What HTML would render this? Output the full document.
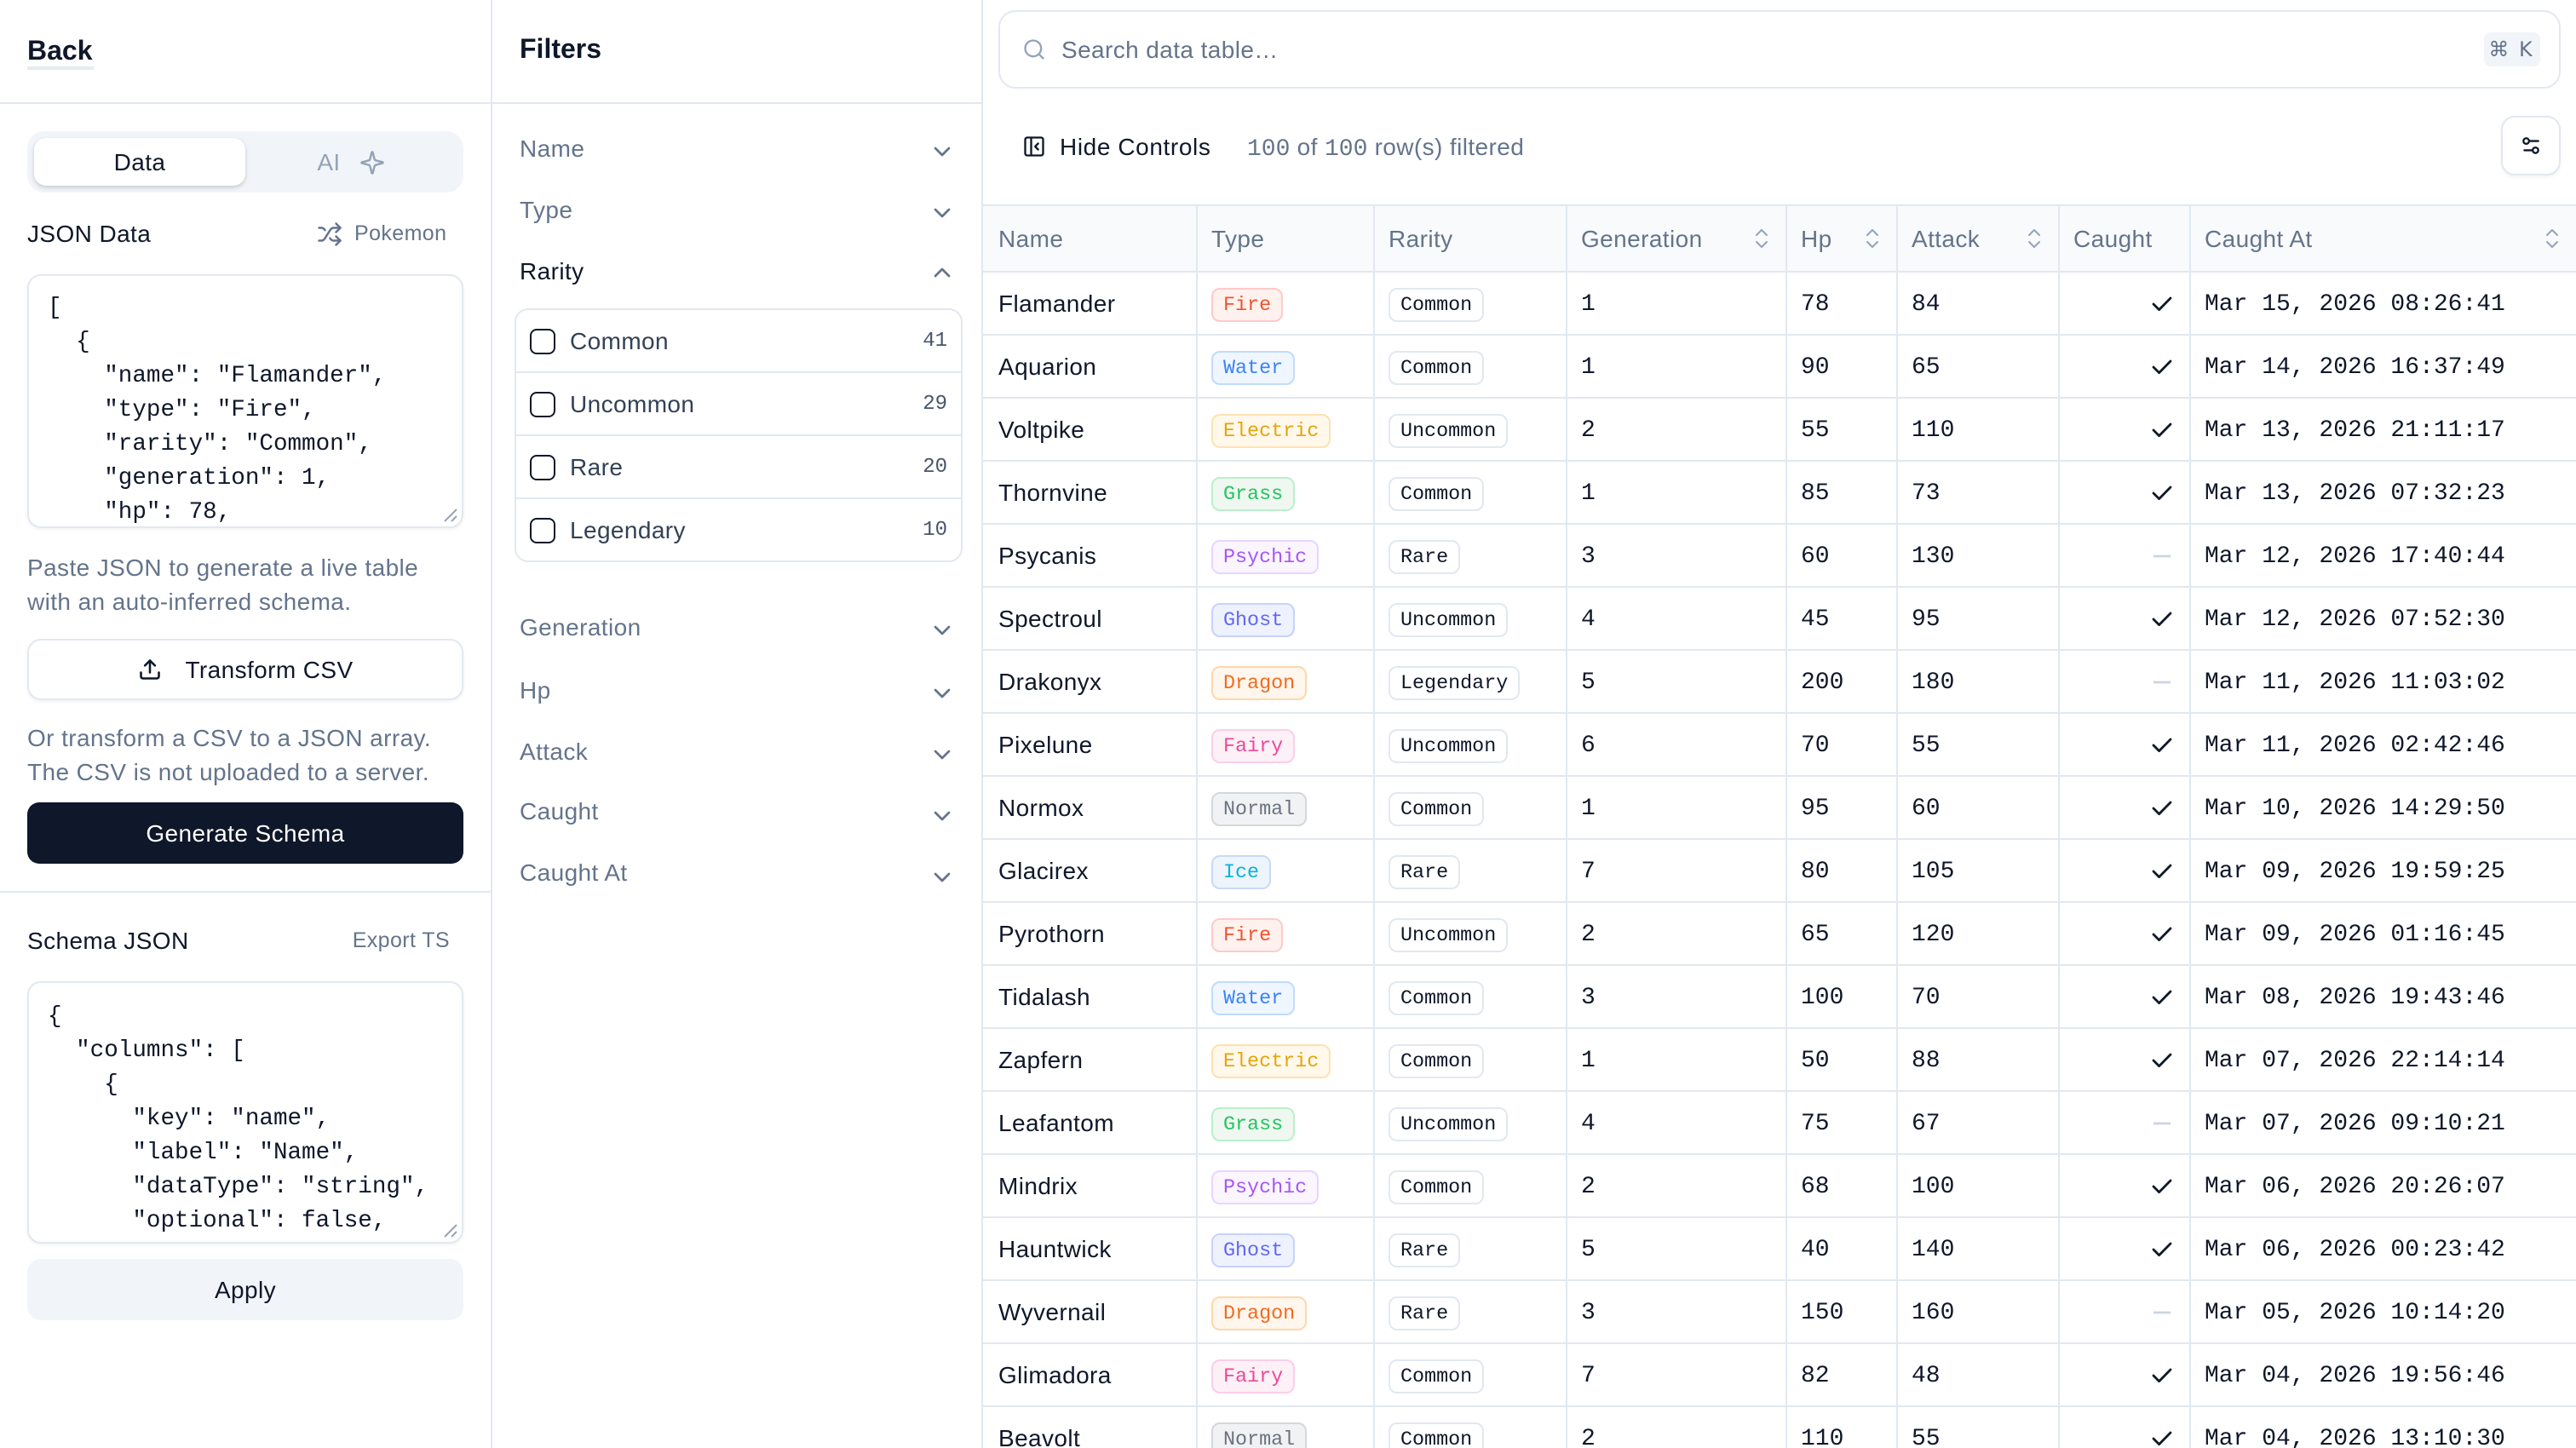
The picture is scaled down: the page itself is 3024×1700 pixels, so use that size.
<!DOCTYPE html>
<html><head><meta charset="utf-8">
<style>
html,body{margin:0;padding:0;width:3024px;height:1700px;overflow:hidden;background:#fff}
#r{position:absolute;left:0;top:0;width:1512px;height:850px;transform:scale(2);transform-origin:0 0;overflow:hidden;font-family:"Liberation Sans",sans-serif;font-size:14px;letter-spacing:.2px;color:#0f172a;background:#fff}
.a{position:absolute}
.t{position:absolute;line-height:20px;white-space:nowrap}
.mono{font-family:"Liberation Mono","DejaVu Sans Mono",monospace;letter-spacing:0}
.muted{color:#64748b}
.vl{position:absolute;top:0;width:1px;height:850px;background:#e2e8f0}
.hl{position:absolute;height:1px;background:#e2e8f0}
.ta{position:absolute;left:16px;width:256px;box-sizing:border-box;border:1px solid #e2e8f0;border-radius:8px;box-shadow:0 1px 2px rgba(15,23,42,.05);overflow:hidden;background:#fff}
.ta pre{margin:0;padding:0 0 0 11px;font-family:"Liberation Mono","DejaVu Sans Mono",monospace;font-size:13.8px;line-height:20px;letter-spacing:0;color:#0f172a}
.btn{position:absolute;left:16px;width:256px;height:36px;box-sizing:border-box;border-radius:8px;display:flex;align-items:center;justify-content:center;white-space:nowrap}
.fl{position:absolute;left:305px;line-height:20px;color:#64748b;white-space:nowrap}
.chev{position:absolute;left:545px;width:16px;height:16px}
.opt{height:36px;border-bottom:1px solid #e2e8f0;position:relative}
.opt:last-child{border-bottom:none}
.cb{position:absolute;left:8px;top:10.5px;width:15.5px;height:15.5px;box-sizing:border-box;border:1.5px solid #0f172a;border-radius:4px}
.ol{position:absolute;left:32px;top:8px;line-height:20px;color:#334155}
.oc{position:absolute;right:8px;top:8px;line-height:20px;font-size:12px;color:#475569}
.thead{position:absolute;left:577px;top:120px;width:1009px;height:40px;box-sizing:border-box;border-top:1px solid #e2e8f0;border-bottom:1px solid #e2e8f0;background:#f8fafc;display:flex}
.thead .c{color:#64748b;position:relative}
.tbl{position:absolute;left:577px;top:160px;width:1009px}
.row{display:flex;height:37px;border-bottom:1px solid #e2e8f0;box-sizing:border-box}
.c{box-sizing:border-box;border-right:1px solid #e2e8f0;display:flex;align-items:center;padding:0 8px;white-space:nowrap;overflow:hidden;flex:none;height:100%}
.c1{width:126px;padding-left:9px}.c2{width:104px}.c3{width:113px}.c4{width:129px}.c5{width:65px}.c6{width:95px}.c7{width:77px;justify-content:flex-end;padding-right:10px}.c8{width:300px;border-right:none}
.row .c4,.row .c5,.row .c6,.row .c8{font-family:"Liberation Mono","DejaVu Sans Mono",monospace;letter-spacing:0;font-size:14px;padding-top:2px}
.row .c2,.row .c3{padding-top:2px}
.b{display:inline-block;height:20px;line-height:18px;box-sizing:border-box;border:1px solid #e2e8f0;border-radius:5px;padding:0 6px;font-family:"Liberation Mono","DejaVu Sans Mono",monospace;font-size:11.7px;letter-spacing:0}
.rr{background:#fff;color:#0f172a;border-color:#e2e8f0}
.fire{color:#f0532d;background:#fff1ee;border-color:#fecaca}
.water{color:#3b82f6;background:#eff6ff;border-color:#bfdbfe}
.electric{color:#e5a50a;background:#fff8eb;border-color:#fde2b0}
.grass{color:#22c55e;background:#eff7f1;border-color:#bbf0cb}
.psychic{color:#a855f7;background:#faf5ff;border-color:#e9d5ff}
.ghost{color:#6366f1;background:#eef2ff;border-color:#c7d2fe}
.dragon{color:#f26b1d;background:#fff6ee;border-color:#fed7aa}
.fairy{color:#ec4899;background:#fdf0f6;border-color:#fbcfe8}
.normal{color:#6b7280;background:#f1f2f4;border-color:#d4d7dc}
.ice{color:#06b6d4;background:#eef4fc;border-color:#c8daf5}
.srt{position:absolute;right:10px;top:12px;width:8px;height:14px}
</style></head><body>
<div id="r">

<!-- dividers -->
<div class="vl" style="left:288px"></div>
<div class="vl" style="left:576px"></div>
<div class="hl" style="left:0;top:60px;width:577px"></div>
<div class="hl" style="left:0;top:523px;width:288px"></div>

<!-- LEFT PANEL -->
<div class="t" style="left:16px;top:21px;font-size:16px;font-weight:700;letter-spacing:0">Back</div>
<div class="a" style="left:16px;top:39px;width:39px;height:1.5px;background:#e6ebf2"></div>

<div class="a" style="left:16px;top:77px;width:256px;height:36px;background:#f1f5f9;border-radius:10px"></div>
<div class="a" style="left:20px;top:81px;width:124px;height:28px;background:#fff;border-radius:7px;box-shadow:0 1px 3px rgba(15,23,42,.14),0 1px 2px rgba(15,23,42,.06);text-align:center;line-height:28px">Data</div>
<div class="a" style="left:144px;top:81px;width:124px;height:28px;display:flex;align-items:center;justify-content:center;gap:11px;color:#94a3b8">
  <span>AI</span>
  <svg width="15" height="15" viewBox="0 0 24 24" fill="none" stroke="#94a3b8" stroke-width="2" stroke-linecap="round" stroke-linejoin="round"><path d="M9.937 15.5A2 2 0 0 0 8.5 14.063l-6.135-1.582a.5.5 0 0 1 0-.962L8.5 9.936A2 2 0 0 0 9.937 8.5l1.582-6.135a.5.5 0 0 1 .963 0L14.063 8.5A2 2 0 0 0 15.5 9.937l6.135 1.581a.5.5 0 0 1 0 .964L15.5 14.063a2 2 0 0 0-1.437 1.437l-1.582 6.135a.5.5 0 0 1-.963 0z"/></svg>
</div>

<div class="t" style="left:16px;top:127px">JSON Data</div>
<svg class="a" style="left:186px;top:130px" width="15" height="15" viewBox="0 0 24 24" fill="none" stroke="#64748b" stroke-width="2" stroke-linecap="round" stroke-linejoin="round"><path d="m18 14 4 4-4 4"/><path d="m18 2 4 4-4 4"/><path d="M2 18h1.973a4 4 0 0 0 3.3-1.7l5.454-8.6a4 4 0 0 1 3.3-1.7H22"/><path d="M2 6h1.972a4 4 0 0 1 3.6 2.2"/><path d="M22 18h-6.041a4 4 0 0 1-3.3-1.8l-.359-.45"/></svg>
<div class="t muted" style="left:208px;top:127px;font-size:12.5px">Pokemon</div>

<div class="ta" style="top:161px;height:149px"><pre style="padding-top:10px">[
  {
    "name": "Flamander",
    "type": "Fire",
    "rarity": "Common",
    "generation": 1,
    "hp": 78,</pre>
<svg class="a" style="right:2px;bottom:2px" width="9" height="9" viewBox="0 0 9 9" stroke="#94a3b8" stroke-width="1"><path d="M8 1 L1 8 M8 5 L5 8"/></svg></div>

<div class="t muted" style="left:16px;top:323px">Paste JSON to generate a live table</div>
<div class="t muted" style="left:16px;top:343px">with an auto-inferred schema.</div>

<div class="btn" style="top:375px;border:1px solid #e2e8f0;background:#fff;box-shadow:0 1px 2px rgba(15,23,42,.05);gap:14px">
<svg width="14" height="14" viewBox="0 0 24 24" fill="none" stroke="#0f172a" stroke-width="2.2" stroke-linecap="round" stroke-linejoin="round"><path d="M21 15v4a2 2 0 0 1-2 2H5a2 2 0 0 1-2-2v-4"/><polyline points="17 8 12 3 7 8"/><line x1="12" x2="12" y1="3" y2="15"/></svg>
<span>Transform CSV</span></div>

<div class="t muted" style="left:16px;top:423px">Or transform a CSV to a JSON array.</div>
<div class="t muted" style="left:16px;top:443px">The CSV is not uploaded to a server.</div>

<div class="btn" style="top:471px;background:#0f172a;color:#fff;border-radius:7px">Generate Schema</div>

<div class="t" style="left:16px;top:542px">Schema JSON</div>
<div class="t muted" style="left:150px;width:114px;text-align:right;top:542px;font-size:12.5px">Export TS</div>

<div class="ta" style="top:576px;height:154px"><pre style="padding-top:11px">{
  "columns": [
    {
      "key": "name",
      "label": "Name",
      "dataType": "string",
      "optional": false,</pre>
<svg class="a" style="right:2px;bottom:2px" width="9" height="9" viewBox="0 0 9 9" stroke="#94a3b8" stroke-width="1"><path d="M8 1 L1 8 M8 5 L5 8"/></svg></div>

<div class="btn" style="top:739px;background:#f1f5f9">Apply</div>

<!-- FILTER PANEL -->
<div class="t" style="left:305px;top:20px;font-size:16px;font-weight:700;letter-spacing:0">Filters</div>

<div class="fl" style="top:77px">Name</div>
<svg class="chev" style="top:81px" viewBox="0 0 24 24" fill="none" stroke="#64748b" stroke-width="2" stroke-linecap="round" stroke-linejoin="round"><path d="m6 9 6 6 6-6"/></svg>
<div class="fl" style="top:113px">Type</div>
<svg class="chev" style="top:117px" viewBox="0 0 24 24" fill="none" stroke="#64748b" stroke-width="2" stroke-linecap="round" stroke-linejoin="round"><path d="m6 9 6 6 6-6"/></svg>
<div class="fl" style="top:149px;color:#0f172a">Rarity</div>
<svg class="chev" style="top:152px" viewBox="0 0 24 24" fill="none" stroke="#64748b" stroke-width="2" stroke-linecap="round" stroke-linejoin="round"><path d="m18 15-6-6-6 6"/></svg>

<div class="a" style="left:301.5px;top:181px;width:263.5px;height:149px;box-sizing:border-box;border:1px solid #e2e8f0;border-radius:8px;overflow:hidden">
  <div class="opt"><div class="cb"></div><div class="ol">Common</div><div class="oc mono">41</div></div>
  <div class="opt"><div class="cb"></div><div class="ol">Uncommon</div><div class="oc mono">29</div></div>
  <div class="opt"><div class="cb"></div><div class="ol">Rare</div><div class="oc mono">20</div></div>
  <div class="opt"><div class="cb"></div><div class="ol">Legendary</div><div class="oc mono">10</div></div>
</div>

<div class="fl" style="top:358px">Generation</div>
<svg class="chev" style="top:362px" viewBox="0 0 24 24" fill="none" stroke="#64748b" stroke-width="2" stroke-linecap="round" stroke-linejoin="round"><path d="m6 9 6 6 6-6"/></svg>
<div class="fl" style="top:394.5px">Hp</div>
<svg class="chev" style="top:398.5px" viewBox="0 0 24 24" fill="none" stroke="#64748b" stroke-width="2" stroke-linecap="round" stroke-linejoin="round"><path d="m6 9 6 6 6-6"/></svg>
<div class="fl" style="top:430.5px">Attack</div>
<svg class="chev" style="top:434.5px" viewBox="0 0 24 24" fill="none" stroke="#64748b" stroke-width="2" stroke-linecap="round" stroke-linejoin="round"><path d="m6 9 6 6 6-6"/></svg>
<div class="fl" style="top:466px">Caught</div>
<svg class="chev" style="top:470.5px" viewBox="0 0 24 24" fill="none" stroke="#64748b" stroke-width="2" stroke-linecap="round" stroke-linejoin="round"><path d="m6 9 6 6 6-6"/></svg>
<div class="fl" style="top:502px">Caught At</div>
<svg class="chev" style="top:506.5px" viewBox="0 0 24 24" fill="none" stroke="#64748b" stroke-width="2" stroke-linecap="round" stroke-linejoin="round"><path d="m6 9 6 6 6-6"/></svg>

<!-- MAIN -->
<div class="a" style="left:586px;top:6px;width:917px;height:46px;box-sizing:border-box;border:1px solid #e2e8f0;border-radius:10px"></div>
<svg class="a" style="left:599.5px;top:22px" width="14" height="14" viewBox="0 0 24 24" fill="none" stroke="#94a3b8" stroke-width="2" stroke-linecap="round" stroke-linejoin="round"><circle cx="11" cy="11" r="8"/><path d="m21 21-4.3-4.3"/></svg>
<div class="t muted" style="left:623px;top:19px">Search data table…</div>
<div class="a" style="left:1457.5px;top:19px;width:33px;height:20px;background:#f1f5f9;border-radius:4px;text-align:center;line-height:20px;font-size:12px;color:#64748b;letter-spacing:1px;font-family:'DejaVu Sans','Liberation Sans',sans-serif">⌘ K</div>

<svg class="a" style="left:599.5px;top:79px" width="14" height="14" viewBox="0 0 24 24" fill="none" stroke="#0f172a" stroke-width="2" stroke-linecap="round" stroke-linejoin="round"><rect width="18" height="18" x="3" y="3" rx="2"/><path d="M9 3v18"/><path d="m16 15-3-3 3-3"/></svg>
<div class="t" style="left:622px;top:76px;letter-spacing:.3px">Hide Controls</div>
<div class="t muted" style="left:732px;top:76px"><span class="mono">100</span> of <span class="mono">100</span> row(s) filtered</div>

<div class="a" style="left:1468px;top:68px;width:35px;height:35px;box-sizing:border-box;border:1px solid #e2e8f0;border-radius:8px;box-shadow:0 1px 2px rgba(15,23,42,.05)"></div>
<svg class="a" style="left:1479px;top:79px" width="13" height="13" viewBox="0 0 24 24" fill="none" stroke="#0f172a" stroke-width="2.2" stroke-linecap="round" stroke-linejoin="round"><path d="M20 7h-9"/><path d="M14 17H5"/><circle cx="17" cy="17" r="3"/><circle cx="7" cy="7" r="3"/></svg>

<!-- TABLE HEADER -->
<div class="thead">
  <div class="c c1">Name</div>
  <div class="c c2">Type</div>
  <div class="c c3">Rarity</div>
  <div class="c c4">Generation<svg class="srt" viewBox="0 0 8 14" fill="none" stroke="#94a3b8" stroke-width="1" stroke-linecap="round" stroke-linejoin="round"><path d="M1 5 L4 2 L7 5"/><path d="M1 9 L4 12 L7 9"/></svg></div>
  <div class="c c5">Hp<svg class="srt" viewBox="0 0 8 14" fill="none" stroke="#94a3b8" stroke-width="1" stroke-linecap="round" stroke-linejoin="round"><path d="M1 5 L4 2 L7 5"/><path d="M1 9 L4 12 L7 9"/></svg></div>
  <div class="c c6">Attack<svg class="srt" viewBox="0 0 8 14" fill="none" stroke="#94a3b8" stroke-width="1" stroke-linecap="round" stroke-linejoin="round"><path d="M1 5 L4 2 L7 5"/><path d="M1 9 L4 12 L7 9"/></svg></div>
  <div class="c c7" style="justify-content:flex-start;padding-left:8px">Caught</div>
  <div class="c c8">Caught At<svg class="srt" style="left:208px;right:auto" viewBox="0 0 8 14" fill="none" stroke="#94a3b8" stroke-width="1" stroke-linecap="round" stroke-linejoin="round"><path d="M1 5 L4 2 L7 5"/><path d="M1 9 L4 12 L7 9"/></svg></div>
</div>

<!-- TABLE BODY -->
<div class="tbl">
<div class="row"><div class="c c1">Flamander</div><div class="c c2"><span class="b fire">Fire</span></div><div class="c c3"><span class="b rr">Common</span></div><div class="c c4">1</div><div class="c c5">78</div><div class="c c6">84</div><div class="c c7"><svg width="12" height="9" viewBox="0 0 12 9" fill="none" stroke="#0f172a" stroke-width="1.4" stroke-linecap="round" stroke-linejoin="round"><path d="M1 4.5 L4.3 7.8 L11 1"/></svg></div><div class="c c8">Mar 15, 2026 08:26:41</div></div>
<div class="row"><div class="c c1">Aquarion</div><div class="c c2"><span class="b water">Water</span></div><div class="c c3"><span class="b rr">Common</span></div><div class="c c4">1</div><div class="c c5">90</div><div class="c c6">65</div><div class="c c7"><svg width="12" height="9" viewBox="0 0 12 9" fill="none" stroke="#0f172a" stroke-width="1.4" stroke-linecap="round" stroke-linejoin="round"><path d="M1 4.5 L4.3 7.8 L11 1"/></svg></div><div class="c c8">Mar 14, 2026 16:37:49</div></div>
<div class="row"><div class="c c1">Voltpike</div><div class="c c2"><span class="b electric">Electric</span></div><div class="c c3"><span class="b rr">Uncommon</span></div><div class="c c4">2</div><div class="c c5">55</div><div class="c c6">110</div><div class="c c7"><svg width="12" height="9" viewBox="0 0 12 9" fill="none" stroke="#0f172a" stroke-width="1.4" stroke-linecap="round" stroke-linejoin="round"><path d="M1 4.5 L4.3 7.8 L11 1"/></svg></div><div class="c c8">Mar 13, 2026 21:11:17</div></div>
<div class="row"><div class="c c1">Thornvine</div><div class="c c2"><span class="b grass">Grass</span></div><div class="c c3"><span class="b rr">Common</span></div><div class="c c4">1</div><div class="c c5">85</div><div class="c c6">73</div><div class="c c7"><svg width="12" height="9" viewBox="0 0 12 9" fill="none" stroke="#0f172a" stroke-width="1.4" stroke-linecap="round" stroke-linejoin="round"><path d="M1 4.5 L4.3 7.8 L11 1"/></svg></div><div class="c c8">Mar 13, 2026 07:32:23</div></div>
<div class="row"><div class="c c1">Psycanis</div><div class="c c2"><span class="b psychic">Psychic</span></div><div class="c c3"><span class="b rr">Rare</span></div><div class="c c4">3</div><div class="c c5">60</div><div class="c c6">130</div><div class="c c7"><svg width="12" height="3" viewBox="0 0 12 3"><path d="M1 1.5 H11" stroke="#cbd5e1" stroke-width="1.4"/></svg></div><div class="c c8">Mar 12, 2026 17:40:44</div></div>
<div class="row"><div class="c c1">Spectroul</div><div class="c c2"><span class="b ghost">Ghost</span></div><div class="c c3"><span class="b rr">Uncommon</span></div><div class="c c4">4</div><div class="c c5">45</div><div class="c c6">95</div><div class="c c7"><svg width="12" height="9" viewBox="0 0 12 9" fill="none" stroke="#0f172a" stroke-width="1.4" stroke-linecap="round" stroke-linejoin="round"><path d="M1 4.5 L4.3 7.8 L11 1"/></svg></div><div class="c c8">Mar 12, 2026 07:52:30</div></div>
<div class="row"><div class="c c1">Drakonyx</div><div class="c c2"><span class="b dragon">Dragon</span></div><div class="c c3"><span class="b rr">Legendary</span></div><div class="c c4">5</div><div class="c c5">200</div><div class="c c6">180</div><div class="c c7"><svg width="12" height="3" viewBox="0 0 12 3"><path d="M1 1.5 H11" stroke="#cbd5e1" stroke-width="1.4"/></svg></div><div class="c c8">Mar 11, 2026 11:03:02</div></div>
<div class="row"><div class="c c1">Pixelune</div><div class="c c2"><span class="b fairy">Fairy</span></div><div class="c c3"><span class="b rr">Uncommon</span></div><div class="c c4">6</div><div class="c c5">70</div><div class="c c6">55</div><div class="c c7"><svg width="12" height="9" viewBox="0 0 12 9" fill="none" stroke="#0f172a" stroke-width="1.4" stroke-linecap="round" stroke-linejoin="round"><path d="M1 4.5 L4.3 7.8 L11 1"/></svg></div><div class="c c8">Mar 11, 2026 02:42:46</div></div>
<div class="row"><div class="c c1">Normox</div><div class="c c2"><span class="b normal">Normal</span></div><div class="c c3"><span class="b rr">Common</span></div><div class="c c4">1</div><div class="c c5">95</div><div class="c c6">60</div><div class="c c7"><svg width="12" height="9" viewBox="0 0 12 9" fill="none" stroke="#0f172a" stroke-width="1.4" stroke-linecap="round" stroke-linejoin="round"><path d="M1 4.5 L4.3 7.8 L11 1"/></svg></div><div class="c c8">Mar 10, 2026 14:29:50</div></div>
<div class="row"><div class="c c1">Glacirex</div><div class="c c2"><span class="b ice">Ice</span></div><div class="c c3"><span class="b rr">Rare</span></div><div class="c c4">7</div><div class="c c5">80</div><div class="c c6">105</div><div class="c c7"><svg width="12" height="9" viewBox="0 0 12 9" fill="none" stroke="#0f172a" stroke-width="1.4" stroke-linecap="round" stroke-linejoin="round"><path d="M1 4.5 L4.3 7.8 L11 1"/></svg></div><div class="c c8">Mar 09, 2026 19:59:25</div></div>
<div class="row"><div class="c c1">Pyrothorn</div><div class="c c2"><span class="b fire">Fire</span></div><div class="c c3"><span class="b rr">Uncommon</span></div><div class="c c4">2</div><div class="c c5">65</div><div class="c c6">120</div><div class="c c7"><svg width="12" height="9" viewBox="0 0 12 9" fill="none" stroke="#0f172a" stroke-width="1.4" stroke-linecap="round" stroke-linejoin="round"><path d="M1 4.5 L4.3 7.8 L11 1"/></svg></div><div class="c c8">Mar 09, 2026 01:16:45</div></div>
<div class="row"><div class="c c1">Tidalash</div><div class="c c2"><span class="b water">Water</span></div><div class="c c3"><span class="b rr">Common</span></div><div class="c c4">3</div><div class="c c5">100</div><div class="c c6">70</div><div class="c c7"><svg width="12" height="9" viewBox="0 0 12 9" fill="none" stroke="#0f172a" stroke-width="1.4" stroke-linecap="round" stroke-linejoin="round"><path d="M1 4.5 L4.3 7.8 L11 1"/></svg></div><div class="c c8">Mar 08, 2026 19:43:46</div></div>
<div class="row"><div class="c c1">Zapfern</div><div class="c c2"><span class="b electric">Electric</span></div><div class="c c3"><span class="b rr">Common</span></div><div class="c c4">1</div><div class="c c5">50</div><div class="c c6">88</div><div class="c c7"><svg width="12" height="9" viewBox="0 0 12 9" fill="none" stroke="#0f172a" stroke-width="1.4" stroke-linecap="round" stroke-linejoin="round"><path d="M1 4.5 L4.3 7.8 L11 1"/></svg></div><div class="c c8">Mar 07, 2026 22:14:14</div></div>
<div class="row"><div class="c c1">Leafantom</div><div class="c c2"><span class="b grass">Grass</span></div><div class="c c3"><span class="b rr">Uncommon</span></div><div class="c c4">4</div><div class="c c5">75</div><div class="c c6">67</div><div class="c c7"><svg width="12" height="3" viewBox="0 0 12 3"><path d="M1 1.5 H11" stroke="#cbd5e1" stroke-width="1.4"/></svg></div><div class="c c8">Mar 07, 2026 09:10:21</div></div>
<div class="row"><div class="c c1">Mindrix</div><div class="c c2"><span class="b psychic">Psychic</span></div><div class="c c3"><span class="b rr">Common</span></div><div class="c c4">2</div><div class="c c5">68</div><div class="c c6">100</div><div class="c c7"><svg width="12" height="9" viewBox="0 0 12 9" fill="none" stroke="#0f172a" stroke-width="1.4" stroke-linecap="round" stroke-linejoin="round"><path d="M1 4.5 L4.3 7.8 L11 1"/></svg></div><div class="c c8">Mar 06, 2026 20:26:07</div></div>
<div class="row"><div class="c c1">Hauntwick</div><div class="c c2"><span class="b ghost">Ghost</span></div><div class="c c3"><span class="b rr">Rare</span></div><div class="c c4">5</div><div class="c c5">40</div><div class="c c6">140</div><div class="c c7"><svg width="12" height="9" viewBox="0 0 12 9" fill="none" stroke="#0f172a" stroke-width="1.4" stroke-linecap="round" stroke-linejoin="round"><path d="M1 4.5 L4.3 7.8 L11 1"/></svg></div><div class="c c8">Mar 06, 2026 00:23:42</div></div>
<div class="row"><div class="c c1">Wyvernail</div><div class="c c2"><span class="b dragon">Dragon</span></div><div class="c c3"><span class="b rr">Rare</span></div><div class="c c4">3</div><div class="c c5">150</div><div class="c c6">160</div><div class="c c7"><svg width="12" height="3" viewBox="0 0 12 3"><path d="M1 1.5 H11" stroke="#cbd5e1" stroke-width="1.4"/></svg></div><div class="c c8">Mar 05, 2026 10:14:20</div></div>
<div class="row"><div class="c c1">Glimadora</div><div class="c c2"><span class="b fairy">Fairy</span></div><div class="c c3"><span class="b rr">Common</span></div><div class="c c4">7</div><div class="c c5">82</div><div class="c c6">48</div><div class="c c7"><svg width="12" height="9" viewBox="0 0 12 9" fill="none" stroke="#0f172a" stroke-width="1.4" stroke-linecap="round" stroke-linejoin="round"><path d="M1 4.5 L4.3 7.8 L11 1"/></svg></div><div class="c c8">Mar 04, 2026 19:56:46</div></div>
<div class="row"><div class="c c1">Beavolt</div><div class="c c2"><span class="b normal">Normal</span></div><div class="c c3"><span class="b rr">Common</span></div><div class="c c4">2</div><div class="c c5">110</div><div class="c c6">55</div><div class="c c7"><svg width="12" height="9" viewBox="0 0 12 9" fill="none" stroke="#0f172a" stroke-width="1.4" stroke-linecap="round" stroke-linejoin="round"><path d="M1 4.5 L4.3 7.8 L11 1"/></svg></div><div class="c c8">Mar 04, 2026 13:10:30</div></div>
</div>

</div>
</body></html>
